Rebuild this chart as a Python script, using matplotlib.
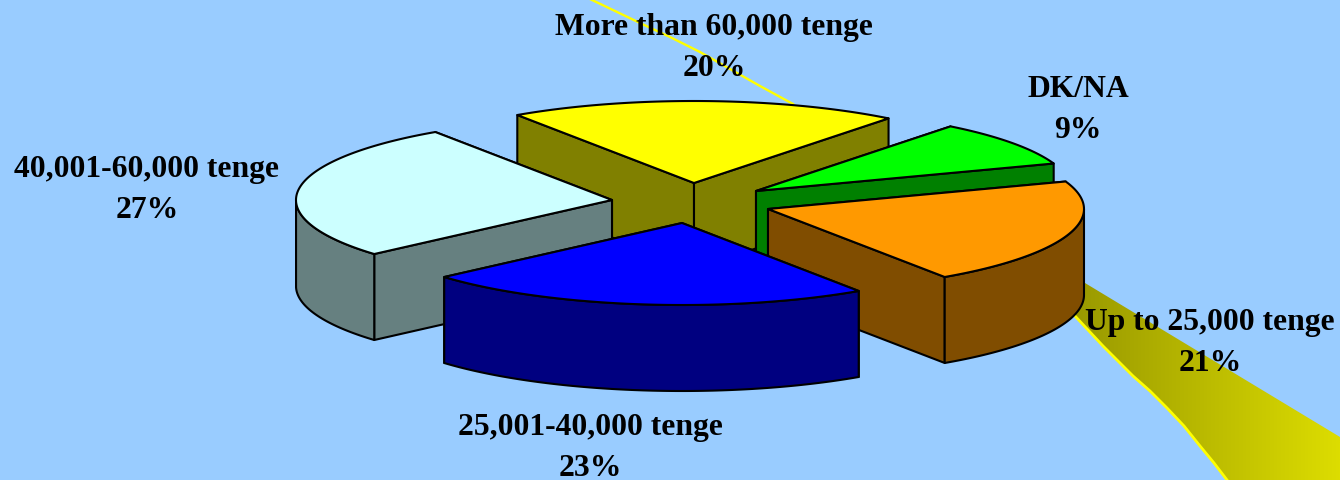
import numpy as np
import matplotlib
matplotlib.use('Agg')
import matplotlib.pyplot as plt
from matplotlib.patches import Polygon, PathPatch
from matplotlib.path import Path

labels = ['More than 60,000 tenge', 'DK/NA', 'Up to 25,000 tenge', '25,001-40,000 tenge', '40,001-60,000 tenge']
values = [20, 9, 21, 23, 27]

top_colors = ['#FFFF00', '#00FF00', '#FF9900', '#0000FF', '#CCFFFF']
side_colors = ['#808000', '#008000', '#804D00', '#000080', '#668080']

# where each exploded slice ends up, pixels
apex_x = [694, 756, 768, 682, 612]
apex_y = [184, 192, 210, 224, 201]
label_x = [714, 1078, 1210, 590, 147]
label_y = [48, 110, 343, 448, 190]

# slices are drawn back to front
draw_order = [0, 1, 4, 2, 3]

start_angle = 124
rx = 316
ry = 82
depth = 86
bg = '#99CCFF'

# background streaks
band_top_x = [1085, 1340]
band_top_y = [284, 438]
band_low_x = [1075, 1103, 1133, 1150, 1167, 1184, 1200, 1214, 1227]
band_low_y = [317, 347, 377, 392, 409, 427, 447, 464, 481]
thin_x = [590, 615, 640, 670, 700, 730, 760, 793]
thin_y = [0, 12, 24, 38, 53, 70, 87, 105]

fig = plt.figure(figsize=(13.4, 4.81), dpi=100, facecolor=bg)
ax = fig.add_axes([0, 0, 1, 1])
ax.set_xlim(0, 1340)
ax.set_ylim(481, 0)
ax.axis('off')

# gold band with a left to right gradient
verts = list(zip(band_top_x, band_top_y)) + [(1340, 481)] + list(zip(band_low_x, band_low_y))[::-1]
grad = np.linspace(0, 1, 256).reshape(1, -1)
cmap = matplotlib.colors.LinearSegmentedColormap.from_list('band', ['#999900', '#DDDD00'])
im = ax.imshow(grad, extent=[1075, 1340, 481, 284], cmap=cmap, aspect='auto', zorder=1)
band = PathPatch(Path(verts + [verts[0]], closed=True), transform=ax.transData, fc='none', ec='none')
ax.add_patch(band)
im.set_clip_path(band)
ax.set_xlim(0, 1340)
ax.set_ylim(481, 0)
ax.plot(band_low_x, band_low_y, color='#FFFF00', lw=2.0, zorder=2)
ax.plot(thin_x, thin_y, color='#FFFF00', lw=1.7, zorder=2)

# slice angles from the values, clockwise
angles = start_angle - np.cumsum([0] + values) * 3.6

z = 3
for i in draw_order:
    cx, cy = apex_x[i], apex_y[i]
    t = np.radians(np.linspace(angles[i], angles[i + 1], 100))
    ax_pts = np.column_stack([cx + rx * np.cos(t), cy - ry * np.sin(t)])
    first, last = ax_pts[0], ax_pts[-1]
    walls = []
    for p in (first, last):
        walls.append([(cx, cy), tuple(p), (p[0], p[1] + depth), (cx, cy + depth)])
    # back walls first so the nearer one covers them
    walls.sort(key=lambda w: w[1][1])
    for w in walls:
        ax.add_patch(Polygon(w, closed=True, fc=side_colors[i], ec='black', lw=1.5, joinstyle='round', zorder=z))
        z += 1
    # only the part of the rim facing the viewer
    front = ax_pts[np.sin(t) < 0]
    if len(front) > 1:
        rim = np.vstack([front, front[::-1] + [0, depth]])
        ax.add_patch(Polygon(rim, closed=True, fc=side_colors[i], ec='black', lw=1.5, joinstyle='round', zorder=z))
        z += 1
    top = np.vstack([[cx, cy], ax_pts])
    ax.add_patch(Polygon(top, closed=True, fc=top_colors[i], ec='black', lw=1.5, joinstyle='round', zorder=z))
    z += 1

for name, v, x, y in zip(labels, values, label_x, label_y):
    ax.text(x, y, f'{name}\n{v}%', ha='center', va='center', family='Liberation Serif',
            weight='bold', fontsize=22.8, linespacing=1.58, color='black', zorder=z)

fig.savefig('out.png', dpi=100, facecolor=bg)
